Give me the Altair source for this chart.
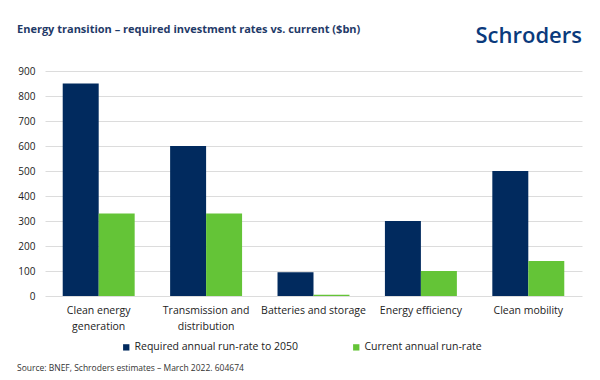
import altair as alt
import pandas as pd

categories = ["Clean energy generation", "Transmission and distribution", "Batteries and storage", "Energy efficiency", "Clean mobility"]
labels = ["Clean energy\ngeneration", "Transmission and\ndistribution", "Batteries and storage", "Energy efficiency", "Clean mobility"]
required = [850, 600, 95, 300, 500]
current = [330, 330, 5, 100, 140]
series = ["Required annual run-rate to 2050", "Current annual run-rate"]
colors = ["#012a5e", "#64c437"]
y_ticks = [0, 100, 200, 300, 400, 500, 600, 700, 800, 900]
title_text = "Energy transition – required investment rates vs. current ($bn)"
source_text = "Source: BNEF, Schroders estimates – March 2022. 604674"

rows = []
for lab, r, c in zip(labels, required, current):
    rows.append({"cat": lab, "series": series[0], "value": r})
    rows.append({"cat": lab, "series": series[1], "value": c})
df = pd.DataFrame(rows)

font = "Open Sans"

bars = alt.Chart(df).mark_bar().encode(
    x=alt.X("cat:N", sort=labels, title=None,
            scale=alt.Scale(paddingInner=0.33, paddingOuter=0.165),
            axis=alt.Axis(labelAngle=0, labelExpr="split(datum.label, '\\n')",
                          domain=False, ticks=False, grid=False, labelPadding=9,
                          labelFontSize=10.5, labelColor="#222", labelFont=font,
                          labelLineHeight=16)),
    xOffset=alt.XOffset("series:N", sort=series),
    y=alt.Y("value:Q", title=None,
            scale=alt.Scale(domain=[0, 900]),
            axis=alt.Axis(values=y_ticks, domain=False, ticks=False, labelPadding=10,
                          gridColor="#dcdcdc", labelFontSize=10, labelColor="#222",
                          labelFont=font)),
    color=alt.Color("series:N", sort=series,
                    scale=alt.Scale(domain=series, range=colors),
                    legend=alt.Legend(title=None, orient="none", direction="horizontal",
                                      legendX=76, legendY=271, symbolType="square",
                                      symbolSize=40, symbolStrokeWidth=0, columnPadding=53,
                                      labelLimit=400, labelOffset=3,
                                      labelFontSize=10.5, labelColor="#222", labelFont=font)),
)

title = alt.Chart(pd.DataFrame({"t": [title_text]})).mark_text(
    align="left", baseline="middle", font=font, fontSize=11, fontWeight="bold",
    color="#1f3a68"
).encode(text="t:N", x=alt.value(-28), y=alt.value(-41))

logo = alt.Chart(pd.DataFrame({"t": ["Schroders"]})).mark_text(
    align="right", baseline="middle", font=font, fontSize=22, fontWeight=600,
    color="#0a3a7c"
).encode(text="t:N", x=alt.value(537), y=alt.value(-35))

source = alt.Chart(pd.DataFrame({"t": [source_text]})).mark_text(
    align="left", baseline="middle", font=font, fontSize=8.5, color="#333"
).encode(text="t:N", x=alt.value(-28), y=alt.value(297))

chart = alt.layer(bars, title, logo, source).properties(
    width=537, height=225,
    background="white",
    autosize=alt.AutoSizeParams(type="none"),
    padding={"left": 37, "top": 63, "right": 10, "bottom": 76},
).configure_view(stroke="transparent", strokeWidth=0)

chart.save("out.html", embed_options={"renderer": "svg", "actions": False})
